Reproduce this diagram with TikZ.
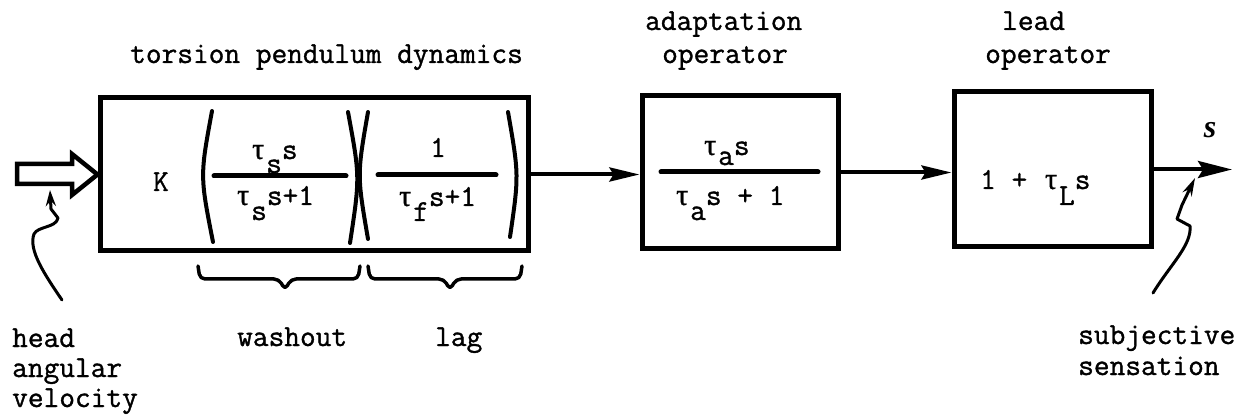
\documentclass[tikz,border=0pt]{standalone}
\usepackage{fontspec}
\newfontfamily\tw[FakeBold=1.1]{Latin Modern Mono}
\newfontfamily\gk[FakeBold=0.5]{Liberation Serif}
\newfontfamily\sv{Liberation Serif}
\usetikzlibrary{arrows.meta}
% lowered typewriter subscript: same size, dropped below the baseline
\newcommand\dn[2][14pt]{\raisebox{-#1}{#2}}
% upright tau set in one typewriter cell
\newcommand\tu{\makebox[16pt]{\gk τ}}
\begin{document}
\begin{tikzpicture}[x=1pt,y=-1pt,
  blk/.style={draw, line width=5pt, inner sep=0pt},
  conn/.style={line width=4pt, -{Stealth[length=30pt,width=14pt,inset=4pt]}},
  txt/.style={font={\tw\fontsize{30.5}{30}\selectfont}, inner sep=0pt, anchor=base west},
  paren/.style={line width=4pt, line cap=round},
  frac/.style={line width=5pt, line cap=round},
  brc/.style={line width=3.5pt, line cap=round, line join=round, rounded corners=5pt},
  hand/.style={line width=3pt, line cap=round, line join=round}]
\useasboundingbox (0,0) rectangle (1249,419);

% blocks
\node[blk, minimum width=428pt, minimum height=153pt] (b1) at (314,174.5) {};
\node[blk, minimum width=196pt, minimum height=153pt] (b2) at (740,172.5) {};
\node[blk, minimum width=197pt, minimum height=155pt] (b3) at (1052.5,169.5) {};

% headings
\node[txt] (t1) at (130,63) {torsion pendulum dynamics};
\node[txt] (t2a) at (645,30) {adaptation};
\node[txt] (t2b) at (662,63) {operator};
\node[txt] (t3a) at (1002,30) {lead};
\node[txt] (t3b) at (985,63) {operator};

% torsion pendulum transfer function
\node[txt, anchor=base] (k) at (161,191) {K};
\draw[paren] (212,111) .. controls (200,176) .. (213,242);
\draw[paren] (348,112) .. controls (360,177) .. (350,243);
\draw[paren] (368,112) .. controls (357,175) .. (368,239);
\draw[paren] (508,112) .. controls (519,175) .. (510,237);
\draw[frac] (214,176) -- (346,176);
\draw[frac] (378,175) -- (496,175);
\node[txt] (n1) at (250,159) {\tu\dn{s}s};
\node[txt] (d1) at (235,205) {\tu\dn[15pt]{s}s+1};
\node[txt] (n2) at (430,157) {1};
\node[txt] (d2) at (397,206) {\tu\dn[15pt]{f}s+1};

% adaptation operator
\draw[frac] (661,172) -- (818,172);
\node[txt] (n3) at (702,155) {\tu\dn[10pt]{a}s};
\node[txt] (d3) at (674,205) {\tu\dn[15pt]{a}s + 1};

% lead operator
\node[txt] (g3) at (980,189) {1 + \tu\dn[16pt]{L}s};

% braces under the two factors
\draw[brc] (198,266) -- (200,279) -- (279,279) -- (285,290) -- (291,279) -- (358,279) -- (360,266);
\draw[brc] (368,266) -- (370,279) -- (444,279) -- (450,290) -- (456,279) -- (520,279) -- (522,266);
\node[txt] (wo) at (237,346) {washout};
\node[txt] (lg) at (435,346) {lag};

% signal flow
\draw[line width=4.5pt, line join=miter, fill=white]
  (17,164) -- (72,164) -- (72,154) -- (b1.west) -- (72,195) -- (72,184) -- (17,184) -- cycle;
\draw[conn] (b1.east) -- (b1.east -| b2.west);
\draw[conn] (b2.east) -- (b2.east -| b3.west);
\coordinate (out) at (1232,169.5);
\draw[line width=4pt, -{Stealth[length=34pt,width=17pt,inset=5pt]}] (b3.east) -- (out);
\node[font={\sv\bfseries\itshape\fontsize{32}{32}\selectfont}, inner sep=0pt] (sl) at (1210,130) {s};

% input and output annotations
\coordinate (p1) at (62,300);
\draw[hand, -{Stealth[length=16pt,width=10pt]}] (p1) .. controls (45,275) and (28,250) .. (34,234)
  .. controls (38,226) and (56,228) .. (58,218) -- (51,209) -- (50,190);
\node[txt] (h1) at (12,347) {head};
\node[txt] (h2) at (12,377) {angular};
\node[txt] (h3) at (12,407) {velocity};

\coordinate (p2) at (1153,293);
\draw[hand, -{Stealth[length=18pt,width=10pt]}] (p2) .. controls (1170,265) and (1192,245) .. (1190,226)
  -- (1177,219) -- (1182,205) -- (1195,178);
\node[txt] (s1) at (1078,344) {subjective};
\node[txt] (s2) at (1078,375) {sensation};
\end{tikzpicture}
\end{document}
